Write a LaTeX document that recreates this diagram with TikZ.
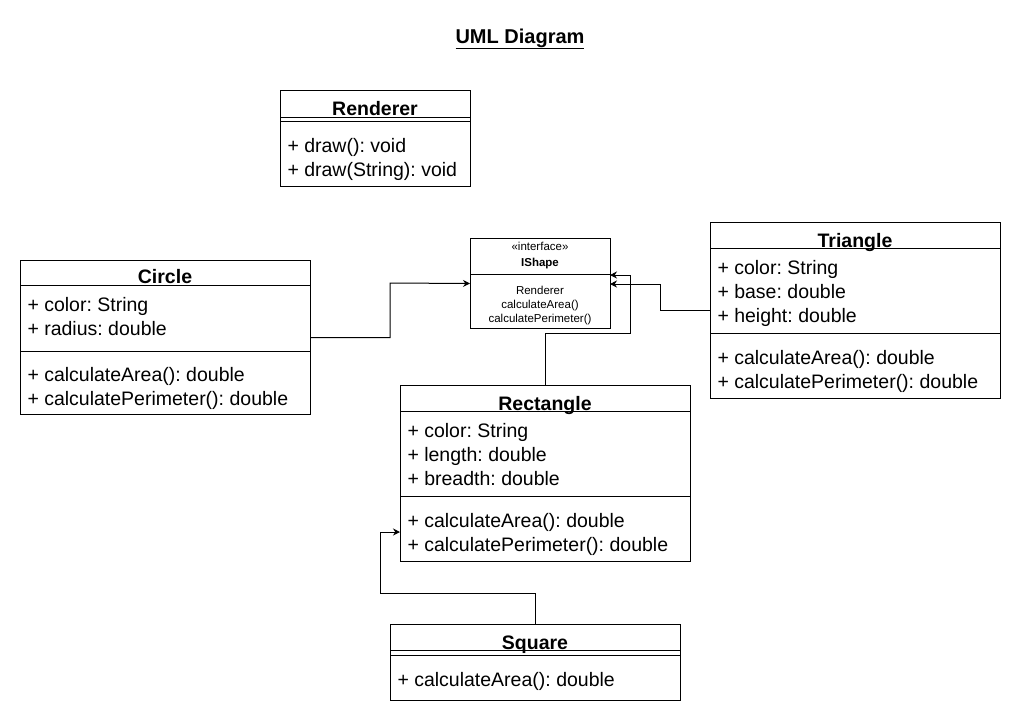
\documentclass[tikz,border=0pt]{standalone}
\usepackage{fontspec}
\setmainfont{Liberation Sans}
\usetikzlibrary{arrows.meta}
\frenchspacing
\begin{document}
\begin{tikzpicture}[x=1pt,y=-1pt,line width=1pt,
    classbox/.style={draw,anchor=north west,inner sep=0pt},
    ctitle/.style={anchor=base,inner sep=0pt,font=\bfseries\fontsize{19.5}{22}\selectfont},
    member/.style={anchor=base west,inner sep=0pt,font=\fontsize{19.5}{22}\selectfont},
    small/.style={anchor=base,inner sep=0pt,font=\fontsize{11.5}{13}\selectfont},
    link/.style={-{Stealth[length=7pt,width=7pt]}}]
        \useasboundingbox (0,0) rectangle (1021,724);

        \node[anchor=base,inner sep=0pt,font=\bfseries\fontsize{20}{24}\selectfont] (title) at (520,43) {\underline{UML Diagram}};

        % Renderer
        \node[classbox,minimum width=190pt,minimum height=96pt] (renderer) at (280,90) {};
        \node[ctitle] (rendererT) at (375,115) {Renderer};
        \draw (280,117) -- (470,117);
        \draw (280,121) -- (470,121);
        \node[member] (rendererM1) at (287,152) {+ draw(): void};
        \node[member] (rendererM2) at (287,176) {+ draw(String): void};

        % IShape
        \node[classbox,minimum width=140pt,minimum height=90pt] (ishape) at (470,238) {};
        \node[small] (ishapeS) at (540,250) {«interface»};
        \node[small,font=\bfseries\fontsize{11.5}{13}\selectfont] (ishapeT) at (540,266) {IShape};
        \draw (470,274) -- (610,274);
        \node[small] (ishapeM1) at (540,294) {Renderer};
        \node[small] (ishapeM2) at (540,308) {calculateArea()};
        \node[small] (ishapeM3) at (540,322) {calculatePerimeter()};

        % Circle
        \node[classbox,minimum width=290pt,minimum height=154pt] (circle) at (20,260) {};
        \node[ctitle] (circleT) at (165,283) {Circle};
        \draw (20,285) -- (310,285);
        \node[member] (circleA1) at (27,311) {+ color: String};
        \node[member] (circleA2) at (27,335) {+ radius: double};
        \draw (20,351) -- (310,351);
        \node[member] (circleM1) at (27,381) {+ calculateArea(): double};
        \node[member] (circleM2) at (27,405) {+ calculatePerimeter(): double};

        % Triangle
        \node[classbox,minimum width=290pt,minimum height=176pt] (triangle) at (710,222) {};
        \node[ctitle] (triangleT) at (855,247) {Triangle};
        \draw (710,248) -- (1000,248);
        \node[member] (triangleA1) at (717,274) {+ color: String};
        \node[member] (triangleA2) at (717,298) {+ base: double};
        \node[member] (triangleA3) at (717,322) {+ height: double};
        \draw (710,333) -- (1000,333);
        \node[member] (triangleM1) at (717,364) {+ calculateArea(): double};
        \node[member] (triangleM2) at (717,388) {+ calculatePerimeter(): double};

        % Rectangle
        \node[classbox,minimum width=290pt,minimum height=176pt] (rectangle) at (400,385) {};
        \node[ctitle] (rectangleT) at (545,410) {Rectangle};
        \draw (400,411) -- (690,411);
        \node[member] (rectangleA1) at (407,437) {+ color: String};
        \node[member] (rectangleA2) at (407,461) {+ length: double};
        \node[member] (rectangleA3) at (407,485) {+ breadth: double};
        \draw (400,496) -- (690,496);
        \node[member] (rectangleM1) at (407,527) {+ calculateArea(): double};
        \node[member] (rectangleM2) at (407,551) {+ calculatePerimeter(): double};

        % Square
        \node[classbox,minimum width=290pt,minimum height=76pt] (square) at (390,624) {};
        \node[ctitle] (squareT) at (535,649) {Square};
        \draw (390,650) -- (680,650);
        \draw (390,655) -- (680,655);
        \node[member] (squareM1) at (397,686) {+ calculateArea(): double};

        % arrows
        \coordinate (ishapeA) at (610,275);
        \coordinate (ishapeB) at (610,284);
        \coordinate (rectangleA) at (400,532);

        \draw[link] (circle.east) -| (390,283) -- (ishape.west);
        \draw[link] (rectangle.north) |- (630,333) |- (ishapeA);
        \draw[link] (triangle.west) -| (660,284) -- (ishapeB);
        \draw[link] (square.north) |- (380,593) |- (rectangleA);
    \end{tikzpicture}
\end{document}
